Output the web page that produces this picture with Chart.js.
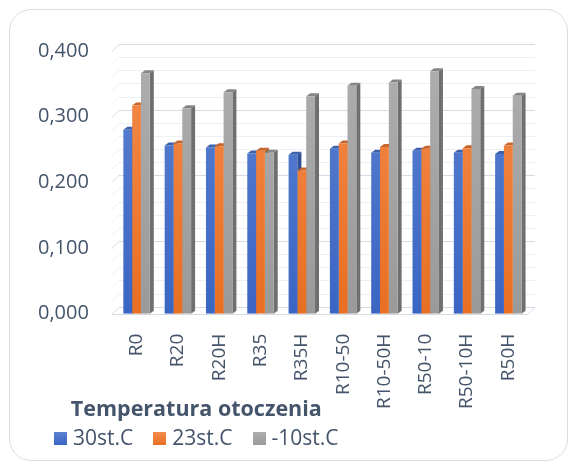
<!DOCTYPE html>
<html>
<head>
<meta charset="utf-8">
<script src="https://cdn.jsdelivr.net/npm/chart.js@4"></script>
<style>
  body { margin: 0; background: #fff; font-family: "Open Sans", sans-serif; }
  #card { position: absolute; left: 9px; top: 9px; width: 557px; height: 450px; border: 1px solid #d9dde3; border-radius: 22px; }
  #wrap { position: absolute; left: 0; top: 0; width: 572px; height: 468px; }
  #legend { position: absolute; left: 54px; top: 394px; color: #44546a; text-align: center; }
  #legend .title { font-weight: bold; font-size: 21.5px; line-height: 28px; }
  #legend .items { font-size: 21px; line-height: 30px; white-space: nowrap; }
  #legend .item { display: inline-block; margin-right: 20px; }
  #legend .item:last-child { margin-right: 0; }
  #legend .box { display: inline-block; width: 13px; height: 13px; margin-right: 6px; vertical-align: 0px; }
</style>
</head>
<body>
<div id="card"></div>
<div id="wrap"><canvas id="chart" width="572" height="468"></canvas></div>
<div id="legend">
  <div class="title">Temperatura otoczenia</div>
  <div class="items" id="legendItems"></div>
</div>
<script>
const categories = ['R0', 'R20', 'R20H', 'R35', 'R35H', 'R10-50', 'R10-50H', 'R50-10', 'R50-10H', 'R50H'];
const seriesNames = ['30st.C', '23st.C', '-10st.C'];
const values30 = [0.280, 0.256, 0.253, 0.244, 0.242, 0.251, 0.245, 0.248, 0.245, 0.243];
const values23 = [0.317, 0.259, 0.255, 0.248, 0.218, 0.259, 0.254, 0.251, 0.252, 0.256];
const valuesMinus10 = [0.366, 0.313, 0.337, 0.245, 0.331, 0.347, 0.352, 0.369, 0.342, 0.332];
const yTicks = [0, 0.1, 0.2, 0.3, 0.4];

const textColor = '#44546a';
const faceColors = [['#5b82d2', '#3a65c3'], ['#f48b4c', '#e86f22'], ['#aeaeae', '#9a9a9a']];
const sideColors = ['#2e4f93', '#b3571b', '#6f6f6f'];
const capColors = ['#3c61ad', '#c8652a', '#858585'];

function faceGradient(i) {
    return (ctx) => {
        const area = ctx.chart.chartArea;
        if (!area) return faceColors[i][1];
        const g = ctx.chart.ctx.createLinearGradient(0, area.top, 0, area.bottom);
        g.addColorStop(0, faceColors[i][0]);
        g.addColorStop(1, faceColors[i][1]);
        return g;
    };
}

// back wall grid + floor, and the 3D side/top faces of every bar
const wall3d = {
    id: 'wall3d',
    beforeDatasetsDraw(chart) {
        const { ctx, chartArea: a, scales: { y } } = chart;
        const dx = 7, dy = 7;
        ctx.save();
        ctx.lineWidth = 1;
        for (let v = 0; v <= 0.4001; v += 0.02) {
            const py = Math.round(y.getPixelForValue(v)) + 0.5;
            const major = Math.abs(v * 10 - Math.round(v * 10)) < 1e-6;
            ctx.strokeStyle = major ? '#d5dbe4' : '#eceff3';
            ctx.beginPath();
            ctx.moveTo(a.left - 4, py);
            ctx.lineTo(a.left - 4 + dx, py - dy);
            ctx.lineTo(a.right + 6, py - dy);
            ctx.stroke();
        }
        const y0 = Math.round(y.getPixelForValue(0)) + 0.5;
        ctx.strokeStyle = '#d5dbe4';
        ctx.beginPath();
        ctx.moveTo(a.left - 4, y0);
        ctx.lineTo(a.right - 1, y0);
        ctx.lineTo(a.right + 6, y0 - dy);
        ctx.stroke();

        const d = 4, h = 3;
        chart.data.datasets.forEach((ds, i) => {
            chart.getDatasetMeta(i).data.forEach((bar) => {
                const l = bar.x - bar.width / 2, r = bar.x + bar.width / 2;
                ctx.fillStyle = sideColors[i];
                ctx.beginPath();
                ctx.moveTo(r, bar.y);
                ctx.lineTo(r + d, bar.y - h);
                ctx.lineTo(r + d, bar.base - h);
                ctx.lineTo(r, bar.base);
                ctx.closePath();
                ctx.fill();
                ctx.fillStyle = capColors[i];
                ctx.beginPath();
                ctx.moveTo(l, bar.y);
                ctx.lineTo(l + d, bar.y - h);
                ctx.lineTo(r + d, bar.y - h);
                ctx.lineTo(r, bar.y);
                ctx.closePath();
                ctx.fill();
            });
        });
        ctx.restore();
    }
};

const allSeries = [values30, values23, valuesMinus10];

new Chart(document.getElementById('chart').getContext('2d'), {
    type: 'bar',
    data: {
        labels: categories,
        datasets: allSeries.map((vals, i) => ({
            label: seriesNames[i],
            data: vals,
            backgroundColor: faceGradient(i),
            borderWidth: 0,
            barPercentage: 1,
            categoryPercentage: 0.64
        }))
    },
    options: {
        responsive: false,
        animation: false,
        layout: { padding: { left: 19, right: 43, top: 51, bottom: 47 } },
        scales: {
            x: {
                grid: { display: false },
                border: { display: false },
                ticks: { color: textColor, font: { family: 'Open Sans', size: 19 }, minRotation: 90, maxRotation: 90, padding: 12, autoSkip: false }
            },
            y: {
                min: 0,
                max: 0.4,
                grid: { display: false },
                border: { display: false },
                afterBuildTicks: (axis) => { axis.ticks = yTicks.map(v => ({ value: v })); },
                ticks: {
                    color: textColor,
                    font: { family: 'Open Sans', size: 20 },
                    padding: 19,
                    callback: (v) => Number(v).toFixed(3).replace('.', ',')
                }
            }
        },
        plugins: { legend: { display: false }, tooltip: { enabled: false } }
    },
    plugins: [wall3d]
});

const legendItems = document.getElementById('legendItems');
legendItems.innerHTML = seriesNames.map((name, i) =>
    `<span class="item"><span class="box" style="background:linear-gradient(${faceColors[i][0]}, ${faceColors[i][1]})"></span>${name}</span>`
).join('');
</script>
</body>
</html>
